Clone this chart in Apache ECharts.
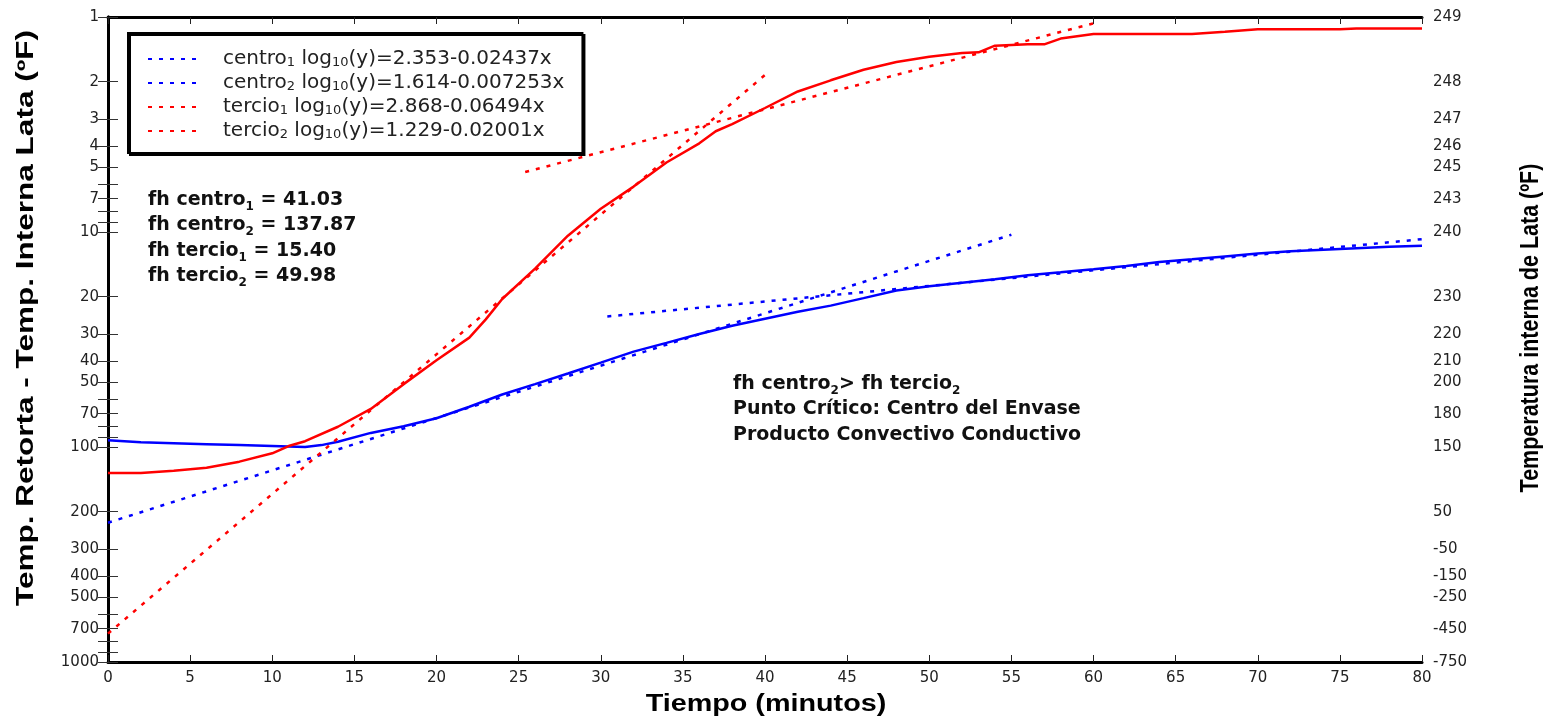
<!DOCTYPE html>
<html>
<head>
<meta charset="utf-8">
<script src="https://cdn.jsdelivr.net/npm/echarts@6/dist/echarts.min.js"></script>
<style>
  html, body { margin: 0; padding: 0; background: #fff; }
  #chart { width: 1557px; height: 720px; }
</style>
</head>
<body>
<div id="chart"></div>
<script>
// centro del envase (blue) - diferencia retorta menos lata, ºF
const centroTime = [0, 2, 4, 6, 8, 10, 12, 13, 14, 16, 18, 20, 22, 24, 26, 28, 30, 32, 34, 36, 38, 40, 42, 44, 46, 48, 50, 52, 54, 56, 58, 60, 62, 64, 66, 68, 70, 72, 74, 76, 78, 80];
const centroDiff = [93, 95, 96, 97, 98, 99, 100, 98, 94.5, 86, 80, 73.5, 65, 57, 51, 45.5, 40.5, 36, 32.8, 29.8, 27.3, 25.3, 23.5, 22, 20.3, 18.7, 17.9, 17.2, 16.6, 15.9, 15.4, 14.9, 14.4, 13.8, 13.4, 13.0, 12.6, 12.3, 12.1, 11.9, 11.7, 11.6];

// tercio del envase (red)
const tercioTime = [0, 2, 4, 6, 8, 10, 11, 12, 14, 16, 18, 20, 22, 23, 24, 26, 28, 30, 32, 34, 36, 37, 38, 40, 42, 44, 46, 48, 50, 52, 53, 54, 56, 57, 58, 60, 66, 68, 70, 75, 76, 80];
const tercioDiff = [132, 132, 129, 125, 117, 107, 99, 94, 80.5, 66.5, 51, 39.5, 31, 25.5, 20.5, 14.8, 10.4, 7.8, 6.15, 4.75, 3.87, 3.4, 3.15, 2.65, 2.22, 1.97, 1.76, 1.62, 1.53, 1.47, 1.46, 1.36, 1.34, 1.34, 1.26, 1.2, 1.2, 1.17, 1.14, 1.14, 1.13, 1.13];

// rectas de ajuste, extremos [tiempo, diferencia]
const centro1Fit = [[0, 225], [55, 10.3]];
const centro2Fit = [[30.4, 24.7], [80, 10.8]];
const tercio1Fit = [[0, 738], [40, 1.86]];
const tercio2Fit = [[25.4, 5.26], [60, 1.07]];

const fitNames = ['centro1', 'centro2', 'tercio1', 'tercio2'];
const fitLabels = [
  'centro{s|1} log{s|10}(y)=2.353-0.02437x',
  'centro{s|2} log{s|10}(y)=1.614-0.007253x',
  'tercio{s|1} log{s|10}(y)=2.868-0.06494x',
  'tercio{s|2} log{s|10}(y)=1.229-0.02001x'
];

const yLabelValues = [1, 2, 3, 4, 5, 7, 10, 20, 30, 40, 50, 70, 100, 200, 300, 400, 500, 700, 1000];
const yTickValues = [1, 2, 3, 4, 5, 6, 7, 8, 9, 10, 20, 30, 40, 50, 60, 70, 80, 90, 100, 200, 300, 400, 500, 600, 700, 800, 900, 1000];
const retortaTemp = 250;

const RED = '#ff0000';
const BLUE = '#0000ff';
const tickFont = { fontFamily: 'DejaVu Sans', fontSize: 15, color: '#222' };

const chart = echarts.init(document.getElementById('chart'));

const pairs = (xs, ys) => xs.map((x, i) => [x, ys[i]]);

const axisLine = { show: true, lineStyle: { color: '#000', width: 3 } };
const subStyle = { font: 'bold 12px "DejaVu Sans"', fill: '#111', verticalAlign: 'bottom', lineHeight: 14, padding: [9, 0, 0, 0] };

const option = {
  animation: false,
  backgroundColor: '#fff',
  grid: { left: 108, right: 135, top: 17, bottom: 58, outerBoundsMode: 'none' },
  legend: {
    data: fitNames,
    orient: 'vertical',
    left: 128,
    top: 33,
    padding: [15, 18, 12, 19],
    itemGap: 3,
    itemWidth: 53,
    itemHeight: 14,
    backgroundColor: '#fff',
    borderColor: '#000',
    borderWidth: 2,
    shadowColor: '#000',
    shadowOffsetX: 2,
    shadowOffsetY: 2,
    shadowBlur: 0,
    itemStyle: { opacity: 0 },
    formatter: (name) => '{gap| }' + fitLabels[fitNames.indexOf(name)],
    textStyle: {
      fontFamily: 'DejaVu Sans',
      fontSize: 20,
      color: '#222',
      lineHeight: 20,
      rich: {
        gap: { width: 17 },
        s: { fontSize: 13, fontFamily: 'DejaVu Sans', color: '#222', verticalAlign: 'bottom', lineHeight: 14, padding: [8, 0, 0, 0] }
      }
    }
  },
  xAxis: [
    {
      type: 'value', min: 0, max: 80, interval: 5, position: 'bottom',
      axisLine: axisLine,
      axisTick: { inside: true, length: 7, lineStyle: { color: '#222', width: 1 } },
      axisLabel: Object.assign({ margin: 9 }, tickFont),
      splitLine: { show: false }
    },
    {
      type: 'value', min: 0, max: 80, interval: 5, position: 'top',
      axisLine: axisLine,
      axisTick: { inside: true, length: 7, lineStyle: { color: '#222', width: 1 } },
      axisLabel: { show: false },
      splitLine: { show: false }
    }
  ],
  yAxis: [
    {
      type: 'log', logBase: 10, min: 1, max: 1000, inverse: true, position: 'left',
      axisLine: axisLine,
      axisTick: { inside: true, length: 10, customValues: yTickValues, lineStyle: { color: '#333', width: 1 } },
      axisLabel: Object.assign({ margin: 9, customValues: yLabelValues, formatter: (v) => String(Math.round(v)) }, tickFont),
      splitLine: { show: false }
    },
    {
      type: 'log', logBase: 10, min: 1, max: 1000, inverse: true, position: 'right',
      axisLine: axisLine,
      axisTick: { inside: true, length: 10, customValues: yTickValues, lineStyle: { color: '#333', width: 1 } },
      axisLabel: Object.assign({
        margin: 11, customValues: yLabelValues,
        formatter: (v) => String(Math.round(retortaTemp - v))
      }, tickFont),
      splitLine: { show: false }
    }
  ],
  series: [
    {
      name: 'centro', type: 'line', data: pairs(centroTime, centroDiff),
      symbol: 'none', lineStyle: { color: BLUE, width: 2.5 }, z: 2
    },
    {
      name: 'tercio', type: 'line', data: pairs(tercioTime, tercioDiff),
      symbol: 'none', lineStyle: { color: RED, width: 2.5 }, z: 2
    },
    {
      name: 'centro1', type: 'line', data: centro1Fit, symbol: 'none',
      itemStyle: { color: BLUE }, lineStyle: { color: BLUE, width: 2.5, type: [4, 7] }, z: 3
    },
    {
      name: 'centro2', type: 'line', data: centro2Fit, symbol: 'none',
      itemStyle: { color: BLUE }, lineStyle: { color: BLUE, width: 2.5, type: [4, 7] }, z: 3
    },
    {
      name: 'tercio1', type: 'line', data: tercio1Fit, symbol: 'none',
      itemStyle: { color: RED }, lineStyle: { color: RED, width: 2.5, type: [4, 7] }, z: 3
    },
    {
      name: 'tercio2', type: 'line', data: tercio2Fit, symbol: 'none',
      itemStyle: { color: RED }, lineStyle: { color: RED, width: 2.5, type: [4, 7] }, z: 3
    }
  ],
  graphic: [
    {
      type: 'text', x: 148, y: 187, z: 10,
      style: {
        text: 'fh centro{s|1} = 41.03\nfh centro{s|2} = 137.87\nfh tercio{s|1} = 15.40\nfh tercio{s|2} = 49.98',
        font: 'bold 19px "DejaVu Sans"', fill: '#111', lineHeight: 25.5,
        rich: { s: subStyle }
      }
    },
    {
      type: 'text', x: 733, y: 371, z: 10,
      style: {
        text: 'fh centro{s|2}> fh tercio{s|2}\nPunto Crítico: Centro del Envase\nProducto Convectivo Conductivo',
        font: 'bold 19px "DejaVu Sans"', fill: '#111', lineHeight: 25.5,
        rich: { s: subStyle }
      }
    },
    {
      type: 'text', x: 766, y: 705, z: 10,
      style: { text: 'Tiempo (minutos)', font: 'bold 23px "Liberation Sans"', fill: '#000', align: 'center', verticalAlign: 'middle' },
      scaleX: 1.25
    },
    {
      type: 'text', x: 27, y: 318, rotation: Math.PI / 2, z: 10,
      style: { text: 'Temp. Retorta - Temp. Interna Lata (ºF)', font: 'bold 23px "Liberation Sans"', fill: '#000', align: 'center', verticalAlign: 'middle' },
      scaleX: 1.37
    },
    {
      type: 'text', x: 1531, y: 328, rotation: Math.PI / 2, z: 10,
      style: { text: 'Temperatura interna de Lata (ºF)', font: 'bold 25px "Liberation Sans"', fill: '#000', align: 'center', verticalAlign: 'middle' },
      scaleX: 0.86
    }
  ]
};

chart.setOption(option);
</script>
</body>
</html>
